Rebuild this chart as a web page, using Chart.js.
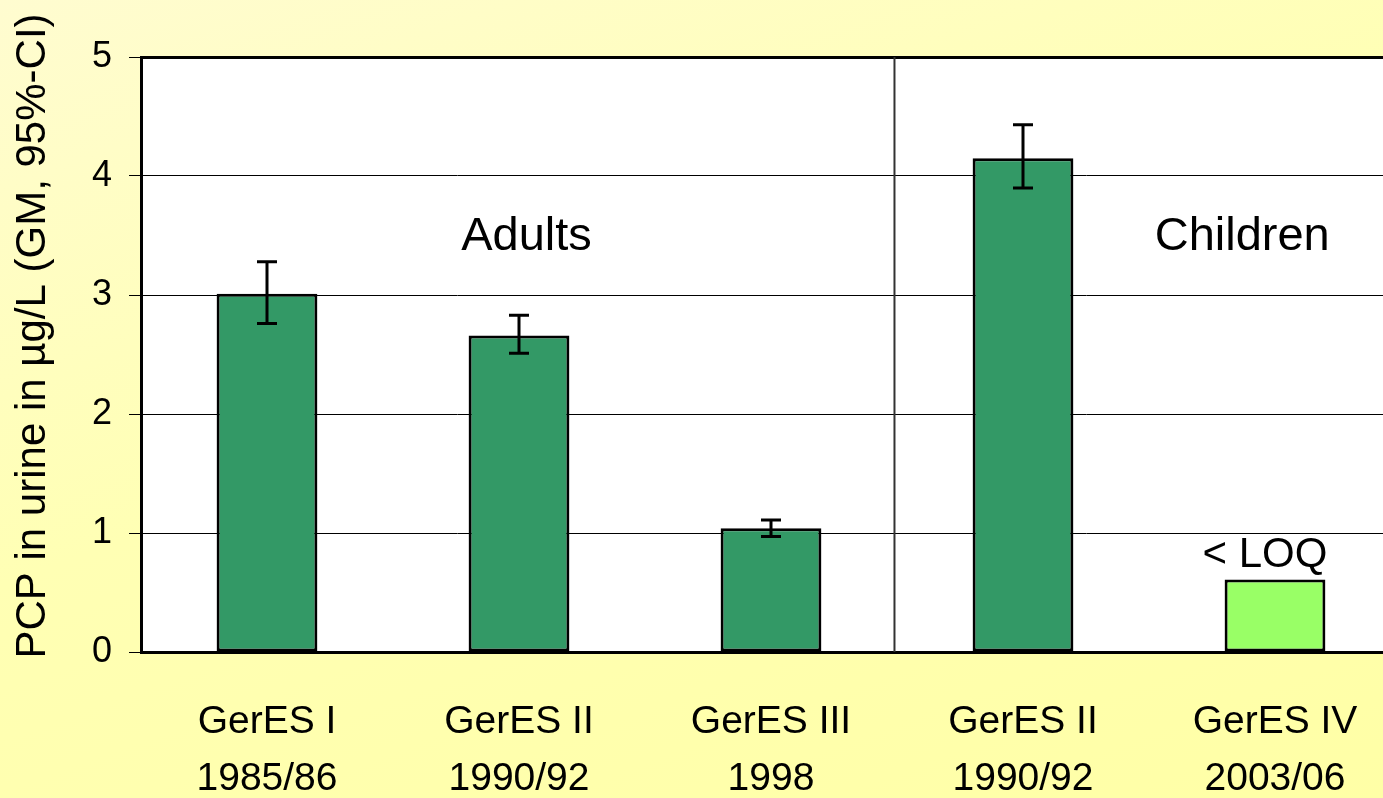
<!DOCTYPE html>
<html>
<head>
<meta charset="utf-8">
<script src="https://cdn.jsdelivr.net/npm/chart.js@4"></script>
<style>
  html, body { margin: 0; padding: 0; overflow: hidden; }
  body {
    width: 1383px; height: 798px;
    background: linear-gradient(160deg, #fffcd0 0%, #ffffb4 45%, #ffffa6 100%);
  }
  canvas { display: block; }
</style>
</head>
<body>
<canvas id="chart" width="1410" height="798"></canvas>
<script>
// data
const surveys   = [['GerES I', '1985/86'], ['GerES II', '1990/92'], ['GerES III', '1998'], ['GerES II', '1990/92'], ['GerES IV', '2003/06']];
const geoMeans  = [3.01, 2.66, 1.04, 4.15, 0.61];
const ciLow     = [2.76, 2.51, 0.97, 3.90, null];
const ciHigh    = [3.28, 2.83, 1.11, 4.43, null];
const barColors = ['#339966', '#339966', '#339966', '#339966', '#99ff66'];
const yTicks    = [0, 1, 2, 3, 4, 5];
const yTitle    = 'PCP in urine in µg/L (GM, 95%-CI)';

const font = 'Liberation Sans, Arial, sans-serif';

// white plot background
const plotBg = {
  id: 'plotBg',
  beforeDraw(chart) {
    const { ctx, chartArea: a } = chart;
    ctx.save();
    ctx.fillStyle = '#ffffff';
    ctx.fillRect(a.left, a.top, a.right - a.left, a.bottom - a.top);
    ctx.restore();
  }
};

// error bars + divider + group labels + y title
const extras = {
  id: 'extras',
  afterDatasetsDraw(chart) {
    const { ctx, chartArea: a } = chart;
    const x = chart.scales.x, y = chart.scales.y;
    ctx.save();

    // Adults / Children divider
    const dx = x.getPixelForValue(2.49);
    ctx.strokeStyle = '#333';
    ctx.lineWidth = 2;
    ctx.beginPath();
    ctx.moveTo(dx, a.top);
    ctx.lineTo(dx, a.bottom);
    ctx.stroke();

    // 95% CI whiskers
    ctx.strokeStyle = '#000';
    ctx.lineWidth = 3;
    geoMeans.forEach((v, i) => {
      if (ciLow[i] == null) return;
      const cx = x.getPixelForValue(i);
      const yl = y.getPixelForValue(ciLow[i]);
      const yh = y.getPixelForValue(ciHigh[i]);
      ctx.beginPath();
      ctx.moveTo(cx, yl); ctx.lineTo(cx, yh);
      ctx.moveTo(cx - 10, yl); ctx.lineTo(cx + 10, yl);
      ctx.moveTo(cx - 10, yh); ctx.lineTo(cx + 10, yh);
      ctx.stroke();
    });

    // text labels
    ctx.fillStyle = '#000';
    ctx.textAlign = 'center';
    ctx.textBaseline = 'middle';
    ctx.font = '47px ' + font;
    ctx.fillText('Adults', x.getPixelForValue(1.03), y.getPixelForValue(3.49));
    ctx.fillText('Children', x.getPixelForValue(3.87), y.getPixelForValue(3.49));
    ctx.font = '42px ' + font;
    ctx.fillText('< LOQ', x.getPixelForValue(3.96), y.getPixelForValue(0.81));

    // y axis title (sits a bit above the axis centre in the original)
    ctx.translate(33, 336);
    ctx.rotate(-Math.PI / 2);
    ctx.font = '42px ' + font;
    ctx.fillText(yTitle, 0, 0);
    ctx.restore();
  }
};

new Chart(document.getElementById('chart'), {
  type: 'bar',
  data: {
    labels: surveys,
    datasets: [{
      data: geoMeans,
      backgroundColor: barColors,
      borderColor: '#000',
      borderWidth: 3,
      borderSkipped: false,
      categoryPercentage: 1,
      barPercentage: 0.4
    }]
  },
  options: {
    responsive: false,
    animation: false,
    layout: { padding: { top: 57, right: 9, left: 0, bottom: 0 } },
    plugins: { legend: { display: false }, tooltip: { enabled: false } },
    scales: {
      x: {
        grid: { display: false, drawTicks: false },
        border: { display: true, color: '#000', width: 3 },
        ticks: { color: '#000', font: { family: font, size: 39, lineHeight: 1.45 }, padding: 42, maxRotation: 0, autoSkip: false },
        afterFit(s) { s.height = 146; }
      },
      y: {
        min: 0, max: 5,
        afterBuildTicks(s) { s.ticks = yTicks.map(v => ({ value: v })); },
        grid: {
          color: '#000',
          lineWidth: c => (c.tick && c.tick.value === 5 ? 3 : 1),
          tickWidth: 1,
          tickLength: 12,
          tickColor: '#000'
        },
        border: { display: true, color: '#000', width: 3 },
        ticks: { color: '#000', font: { family: font, size: 36 }, padding: 17 },
        afterFit(s) { s.width = 141; }
      }
    }
  },
  plugins: [plotBg, extras]
});
</script>
</body>
</html>
